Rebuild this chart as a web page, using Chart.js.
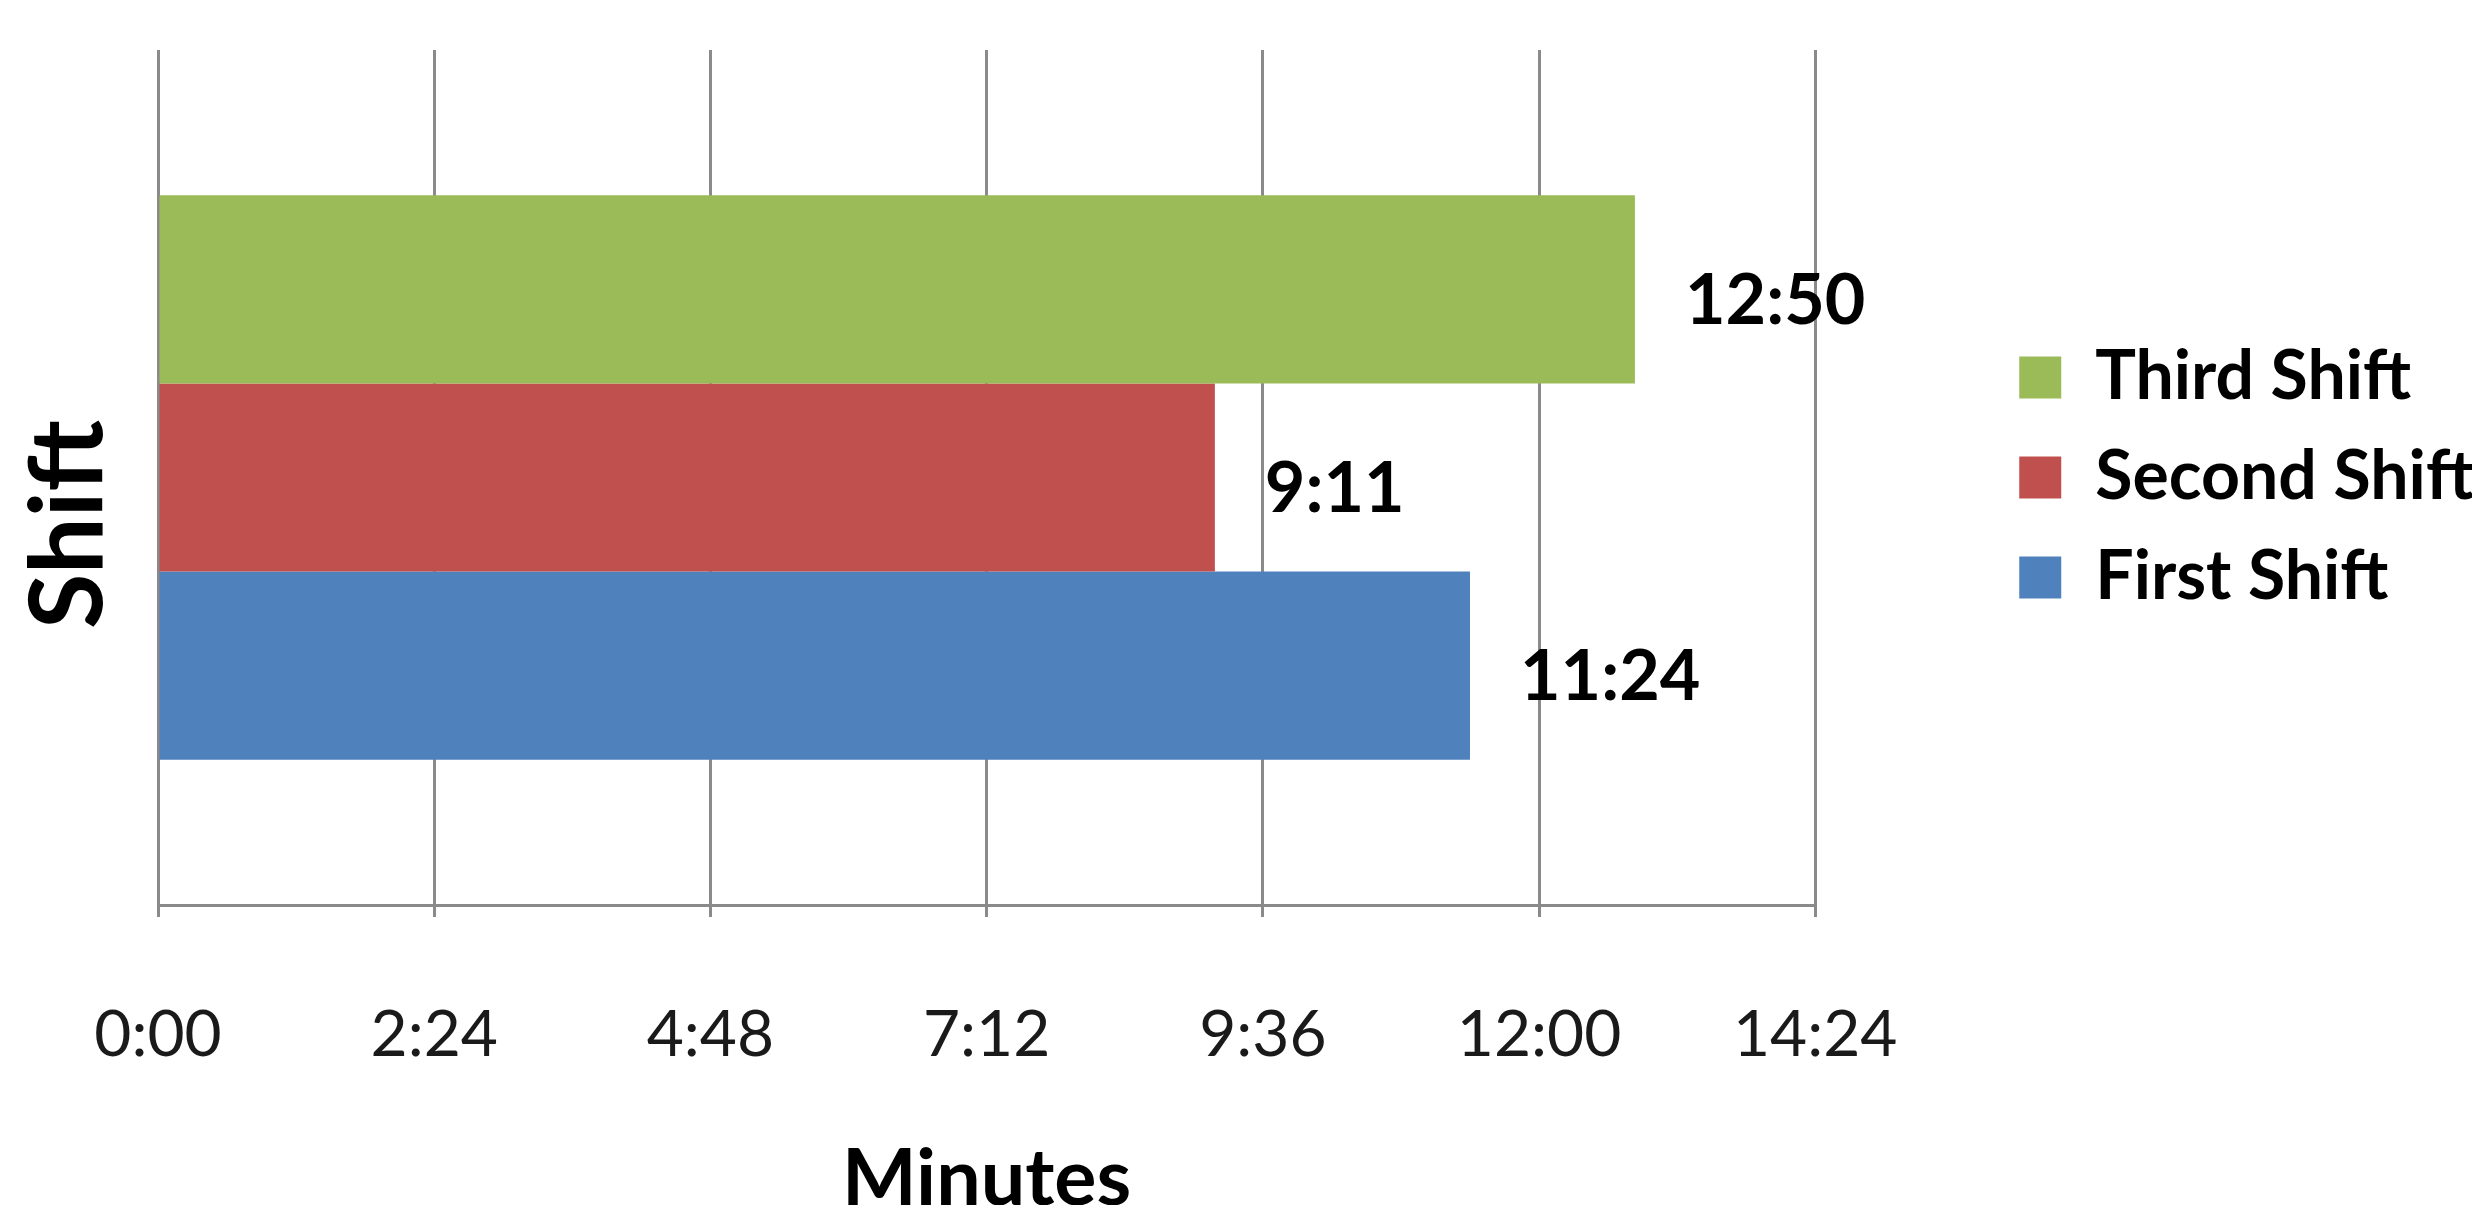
<!DOCTYPE html>
<html>
<head>
<meta charset="utf-8">
<script src="https://cdn.jsdelivr.net/npm/chart.js@4/dist/chart.umd.min.js"></script>
<style>
  html, body { margin: 0; padding: 0; background: #ffffff; overflow: hidden; }
  #wrap { width: 2472px; height: 1205px; position: relative; }
</style>
</head>
<body>
<div id="wrap"><canvas id="chart"></canvas></div>
<script>
// ---- data (durations in seconds) ----
const categories = [''];
const seriesNames = ['Third Shift', 'Second Shift', 'First Shift'];
const thirdShift = [770];   // 12:50
const secondShift = [551];  // 9:11
const firstShift = [684];   // 11:24
const tickValues = [0, 144, 288, 432, 576, 720, 864];
const tickLabels = ['0:00', '2:24', '4:48', '7:12', '9:36', '12:00', '14:24'];
const xTitle = 'Minutes';
const yTitle = 'Shift';
const seriesColors = ['#9BBB59', '#C0504D', '#4F81BD'];

function fmt(sec) {
  const m = Math.floor(sec / 60);
  const s = Math.round(sec - m * 60);
  return m + ':' + (s < 10 ? '0' : '') + s;
}

const seriesValues = [thirdShift, secondShift, firstShift];

const annotate = {
  id: 'annotate',
  afterDatasetsDraw(chart) {
    const ctx = chart.ctx;
    ctx.save();
    ctx.fillStyle = '#000000';
    ctx.font = 'bold 70px Lato';
    ctx.textAlign = 'left';
    ctx.textBaseline = 'middle';
    chart.data.datasets.forEach((ds, di) => {
      const meta = chart.getDatasetMeta(di);
      meta.data.forEach((el, i) => {
        ctx.fillText(fmt(ds.data[i]), el.x + 50, el.y + 12);
      });
    });
    const a = chart.chartArea;
    ctx.translate(102, (a.top + a.bottom) / 2 + 47);
    ctx.rotate(-Math.PI / 2);
    ctx.font = 'bold 101px Lato';
    ctx.textAlign = 'center';
    ctx.textBaseline = 'alphabetic';
    ctx.fillText(yTitle, 0, 0);
    ctx.restore();
  }
};

new Chart(document.getElementById('chart'), {
  type: 'bar',
  data: {
    labels: categories,
    datasets: seriesNames.map((name, i) => ({
      label: name,
      data: seriesValues[i],
      backgroundColor: seriesColors[i],
      borderWidth: 0,
      categoryPercentage: 0.66,
      barPercentage: 1.0
    }))
  },
  options: {
    indexAxis: 'y',
    responsive: true,
    maintainAspectRatio: false,
    devicePixelRatio: 1,
    animation: false,
    layout: { padding: { left: 158, top: 50, right: -12, bottom: 0 } },
    scales: {
      x: {
        type: 'linear',
        min: tickValues[0],
        max: tickValues[tickValues.length - 1],
        afterBuildTicks: (s) => { s.ticks = tickValues.map(v => ({ value: v })); },
        afterFit: (s) => { s.height = 300; },
        ticks: {
          autoSkip: false,
          maxRotation: 0,
          padding: 80,
          color: '#1a1a1a',
          font: { family: 'Lato', size: 64, lineHeight: 1.2 },
          callback: (v, i) => tickLabels[i]
        },
        grid: { color: '#8a8a8a', lineWidth: 3, tickLength: 12, tickColor: '#8a8a8a', drawTicks: true },
        border: { display: true, color: '#8a8a8a', width: 3 },
        title: {
          display: true,
          text: xTitle,
          color: '#000000',
          font: { family: 'Lato', size: 79, weight: 'bold', lineHeight: 0.64 },
          padding: { top: 0, bottom: 0 }
        }
      },
      y: {
        type: 'category',
        display: false,
        offset: true
      },
      yPad: {
        type: 'linear',
        position: 'right',
        display: true,
        ticks: { display: false },
        grid: { display: false, drawTicks: false },
        border: { display: false },
        afterFit: (s) => { s.width = 172; }
      }
    },
    plugins: {
      tooltip: { enabled: false },
      legend: {
        position: 'right',
        align: 'center',
        fullSize: false,
        labels: {
          boxWidth: 42,
          boxHeight: 42,
          padding: 32,
          color: '#000000',
          font: { family: 'Lato', size: 68, weight: 'bold' }
        }
      }
    }
  },
  plugins: [annotate]
});
</script>
</body>
</html>
